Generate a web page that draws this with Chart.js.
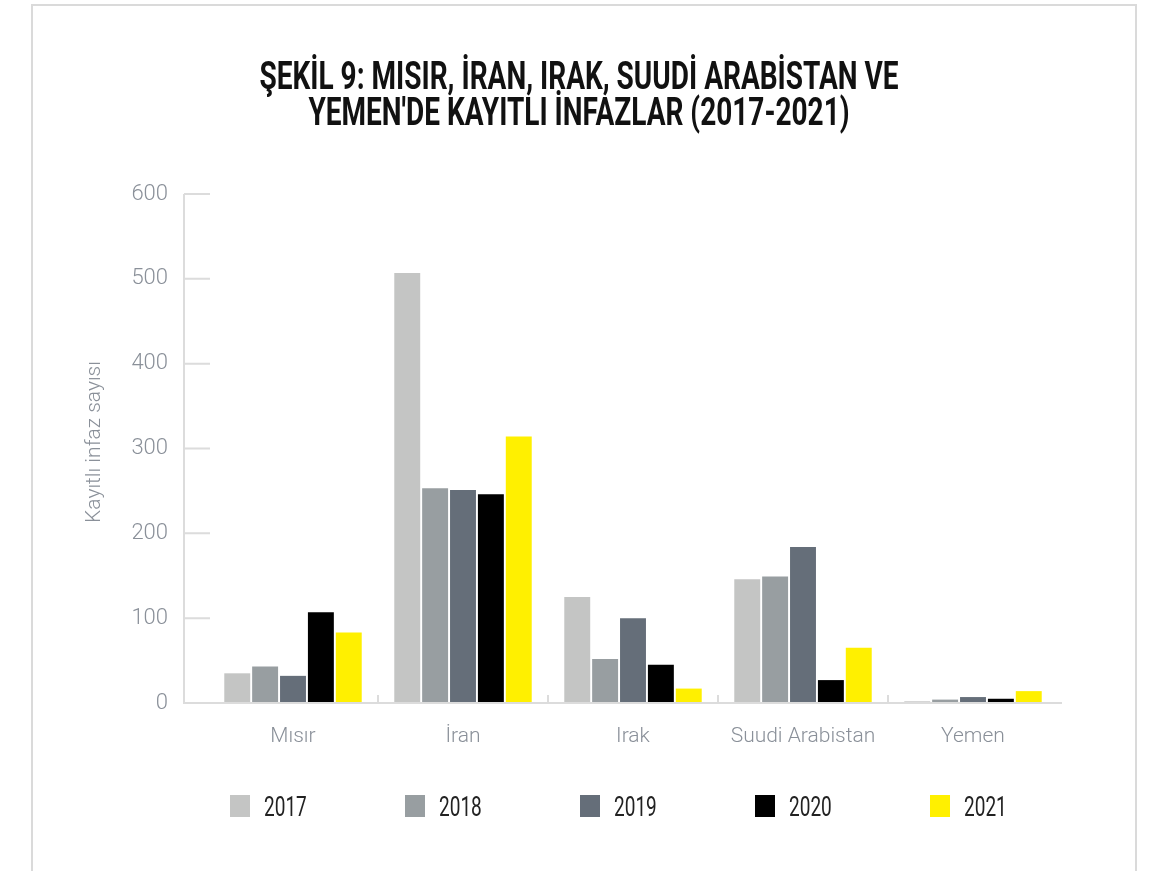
<!DOCTYPE html>
<html>
<head>
<meta charset="utf-8">
<script src="https://cdn.jsdelivr.net/npm/chart.js@4.4.0/dist/chart.umd.min.js"></script>
<style>
  html, body { margin: 0; padding: 0; background: #fff; }
  #wrap { position: relative; width: 1170px; height: 871px; overflow: hidden; }
  #frame { position: absolute; left: 31px; top: 4px; width: 1102px; height: 900px;
           border: 2px solid #dadada; border-bottom: none; }
  canvas { position: absolute; left: 0; top: 0; }
</style>
</head>
<body>
<div id="wrap">
  <div id="frame"></div>
  <canvas id="chart" width="1170" height="871"></canvas>
</div>
<script>
const categories = ["Mısır", "İran", "Irak", "Suudi Arabistan", "Yemen"];
const years = ["2017", "2018", "2019", "2020", "2021"];
const v2017 = [35, 507, 125, 146, 2];
const v2018 = [43, 253, 52, 149, 4];
const v2019 = [32, 251, 100, 184, 7];
const v2020 = [107, 246, 45, 27, 5];
const v2021 = [83, 314, 17, 65, 14];
const yTicks = [0, 100, 200, 300, 400, 500, 600];
const colors = ["#c4c5c4", "#989ea1", "#656e79", "#000000", "#fff000"];
const titleLines = ["ŞEKİL 9: MISIR, İRAN, IRAK, SUUDİ ARABİSTAN VE", "YEMEN'DE KAYITLI İNFAZLAR (2017-2021)"];
const yTitle = "Kayıtlı infaz sayısı";

const series = [v2017, v2018, v2019, v2020, v2021];
const lineCol = "#dcdcdc";
const textGrey = "#8a9099";

// axis lines, short ticks, titles and legend drawn by hand
const decor = {
  id: "decor",
  afterDraw(chart) {
    const ctx = chart.ctx;
    const area = chart.chartArea;
    const y = chart.scales.y, x = chart.scales.x;
    const x0 = area.left - 24;
    ctx.save();
    ctx.strokeStyle = lineCol;
    ctx.lineWidth = 2;
    ctx.beginPath();
    ctx.moveTo(x0, y.getPixelForValue(600));
    ctx.lineTo(x0, area.bottom);
    ctx.lineTo(area.right + 4, area.bottom);
    yTicks.forEach(t => {
      if (t === 0) return;
      const py = y.getPixelForValue(t);
      ctx.moveTo(x0, py);
      ctx.lineTo(area.left + 2, py);
    });
    for (let i = 1; i < categories.length; i++) {
      const px = (x.getPixelForTick(i - 1) + x.getPixelForTick(i)) / 2;
      ctx.moveTo(px, area.bottom);
      ctx.lineTo(px, area.bottom - 8);
    }
    ctx.stroke();

    // y axis title
    ctx.fillStyle = textGrey;
    ctx.font = "300 21px Roboto";
    ctx.textAlign = "center";
    ctx.textBaseline = "middle";
    ctx.save();
    ctx.translate(95, 442);
    ctx.rotate(-Math.PI / 2);
    ctx.fillText(yTitle, 0, 0);
    ctx.restore();

    // title
    ctx.fillStyle = "#111";
    ctx.font = "bold 38px Roboto";
    ctx.textBaseline = "alphabetic";
    titleLines.forEach((line, i) => {
      ctx.save();
      ctx.translate(579, 89 + i * 36);
      ctx.scale(0.737, 1);
      ctx.fillText(line, 0, 0);
      ctx.restore();
    });

    // legend
    ctx.font = "28px Roboto";
    ctx.textAlign = "left";
    years.forEach((yr, i) => {
      const lx = 230 + i * 175;
      ctx.fillStyle = colors[i];
      ctx.fillRect(lx, 795, 20, 22);
      ctx.fillStyle = "#222";
      ctx.save();
      ctx.translate(lx + 34, 816);
      ctx.scale(0.68, 1);
      ctx.fillText(yr, 0, 0);
      ctx.restore();
    });
    ctx.restore();
  }
};

new Chart(document.getElementById("chart"), {
  type: "bar",
  data: {
    labels: categories,
    datasets: years.map((yr, i) => ({
      label: yr,
      data: series[i],
      backgroundColor: colors[i],
      borderWidth: 0,
      barPercentage: 0.93,
      categoryPercentage: 0.82
    }))
  },
  options: {
    responsive: false,
    animation: false,
    layout: { padding: { left: 0, right: 112, top: 194, bottom: 108 } },
    plugins: { legend: { display: false }, tooltip: { enabled: false } },
    scales: {
      x: {
        grid: { display: false },
        border: { display: false },
        ticks: { color: textGrey, font: { family: "Roboto", size: 21, weight: 300 }, padding: 13 },
        afterFit(s) { s.height = 60; }
      },
      y: {
        min: 0, max: 600,
        grid: { display: false },
        border: { display: false },
        afterBuildTicks(s) { s.ticks = yTicks.map(v => ({ value: v })); },
        ticks: { color: textGrey, font: { family: "Roboto", size: 22, weight: 300 }, padding: 32 },
        afterFit(s) { s.width = 208; }
      }
    }
  },
  plugins: [decor]
});
</script>
</body>
</html>
